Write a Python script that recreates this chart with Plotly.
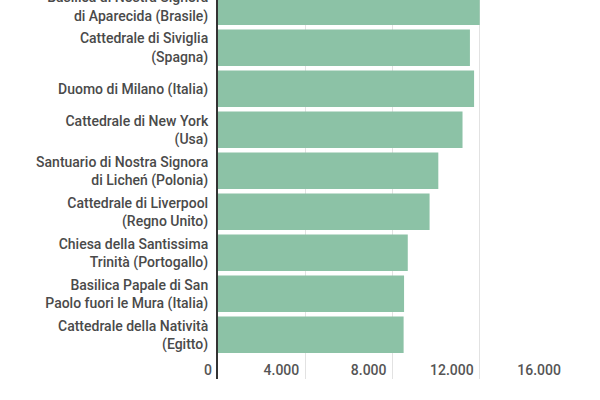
import plotly.graph_objects as go

churches = [
    "Basilica di Nostra Signora<br>di Aparecida (Brasile)",
    "Cattedrale di Siviglia<br>(Spagna)",
    "Duomo di Milano (Italia)",
    "Cattedrale di New York<br>(Usa)",
    "Santuario di Nostra Signora<br>di Licheń (Polonia)",
    "Cattedrale di Liverpool<br>(Regno Unito)",
    "Chiesa della Santissima<br>Trinità (Portogallo)",
    "Basilica Papale di San<br>Paolo fuori le Mura (Italia)",
    "Cattedrale della Natività<br>(Egitto)",
]
areas = [12000, 11550, 11740, 11210, 10100, 9700, 8700, 8530, 8510]
x_ticks = [0, 4000, 8000, 12000, 16000]

# bottom-to-top order for plotting
cats = churches[::-1]
vals = areas[::-1]

fig = go.Figure(go.Bar(
    x=vals, y=cats, orientation="h",
    marker=dict(color="#8cc2a6", line=dict(width=0)),
    hoverinfo="skip",
))

fig.update_layout(
    width=600, height=400,
    margin=dict(l=218, r=33, t=0, b=21, autoexpand=False),
    paper_bgcolor="white", plot_bgcolor="white",
    bargap=0.11,
    separators=",.",
    font=dict(family="Roboto", size=14, color="#4a4a4a"),
    showlegend=False,
)
fig.update_xaxes(
    range=[0, 16000], tickvals=x_ticks, tickformat=",d",
    showgrid=True, gridcolor="#e2e2e2", gridwidth=1,
    zeroline=False, showline=False, ticks="",
    ticklabelposition="inside left", ticklabeloverflow="allow",
    ticklabelshift=-6, ticklabelstandoff=-5,
    tickfont=dict(family="Roboto", size=14, color="#555555", weight=500),
    automargin=False,
    fixedrange=True,
)
fig.update_yaxes(
    type="category", categoryorder="array", categoryarray=cats,
    range=[-1.08, 8.163],
    showline=True, linecolor="#333333", linewidth=2,
    showgrid=False, zeroline=False, ticks="",
    ticklabelstandoff=5,
    tickfont=dict(family="Roboto", size=14, color="#4a4a4a", weight=500),
    automargin=False,
    fixedrange=True,
)

fig.write_html(
    "out.html",
    config={"displayModeBar": False},
    post_script="document.body.style.margin='0px';document.body.style.overflow='hidden';",
)
